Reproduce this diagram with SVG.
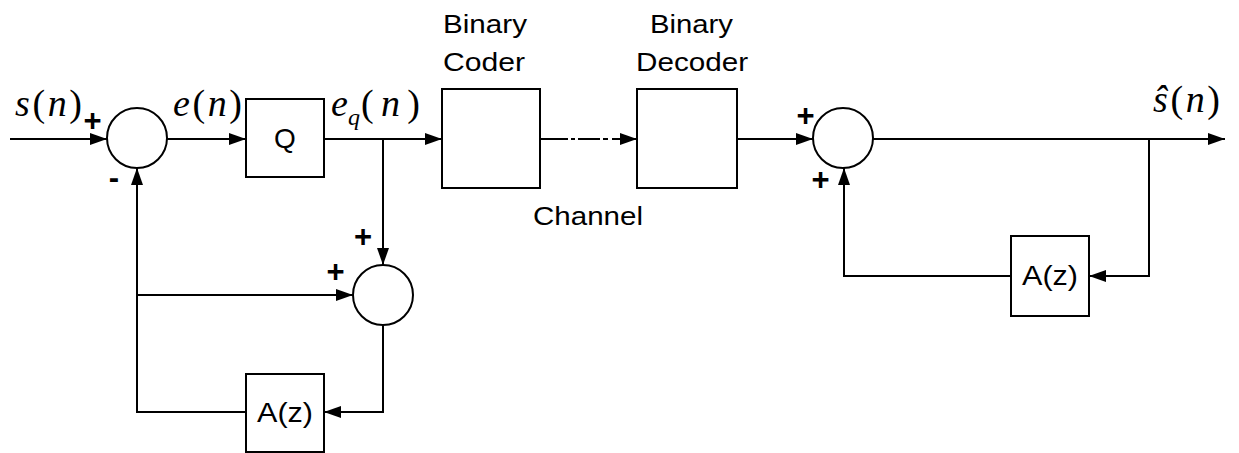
<svg xmlns="http://www.w3.org/2000/svg" width="1239" height="453" viewBox="0 0 1239 453">
<defs>
<marker id="arr" markerUnits="userSpaceOnUse" markerWidth="17" markerHeight="12" refX="17" refY="6" orient="auto">
<path d="M0,0 L17,6 L0,12 z" fill="#000"/>
</marker>
<style>
.box{fill:#fff;stroke:#000;stroke-width:2}
.sum{fill:#fff;stroke:#000;stroke-width:2}
.ln{fill:none;stroke:#000;stroke-width:2;marker-end:url(#arr)}
.lbl{font-family:"Liberation Sans",Arial,sans-serif;font-size:26px;fill:#000}
.big{font-size:28px}
.math{font-family:"Liberation Serif","Times New Roman",serif;font-size:38px;fill:#000}
.sub{font-size:24px}
.it{font-style:italic}
.sg{font-family:"Liberation Sans",Arial,sans-serif;font-size:31px;font-weight:bold;fill:#000;text-anchor:middle}
</style>
</defs>
<rect width="1239" height="453" fill="#fff"/>
<g id="connectors">
<path class="ln" d="M10,139 H107"/>
<path class="ln" d="M167,139 H246"/>
<path class="ln" d="M324,139 H442"/>
<path class="ln" d="M383,139 V265"/>
<path class="ln" d="M540,139 H637" stroke-dasharray="28 3 4 3 22 3 5 4 40"/>
<path class="ln" d="M737,139 H813"/>
<path class="ln" d="M873,139 H1225"/>
<path class="ln" d="M1149,139 V276 H1089"/>
<path class="ln" d="M1011,276 H844 V168"/>
<path class="ln" d="M383,325 V412 H324"/>
<path class="ln" d="M246,412 H137 V168"/>
<path class="ln" d="M137,295 H353"/>
</g>
<g id="sum1"><circle class="sum" cx="137" cy="138" r="30"/></g>
<g id="sum2"><circle class="sum" cx="383" cy="295" r="30"/></g>
<g id="sum3"><circle class="sum" cx="843" cy="138" r="30"/></g>
<g id="quantizer"><rect class="box" x="246" y="99" width="78" height="78"/><text class="lbl big" x="285" y="148" text-anchor="middle">Q</text></g>
<g id="coder"><rect class="box" x="442" y="89" width="98" height="99"/><text class="lbl" x="443" y="33" textLength="84" lengthAdjust="spacingAndGlyphs">Binary</text><text class="lbl" x="443" y="71" textLength="82" lengthAdjust="spacingAndGlyphs">Coder</text></g>
<g id="decoder"><rect class="box" x="637" y="89" width="100" height="99"/><text class="lbl" x="650" y="33" textLength="83" lengthAdjust="spacingAndGlyphs">Binary</text><text class="lbl" x="636" y="71" textLength="112" lengthAdjust="spacingAndGlyphs">Decoder</text></g>
<g id="channel"><text class="lbl" x="533" y="225" textLength="110" lengthAdjust="spacingAndGlyphs">Channel</text></g>
<g id="predictor1"><rect class="box" x="246" y="374" width="78" height="78"/><text class="lbl big" x="257" y="422" textLength="56" lengthAdjust="spacingAndGlyphs">A(z)</text></g>
<g id="predictor2"><rect class="box" x="1011" y="236" width="78" height="80"/><text class="lbl big" x="1022" y="285" textLength="56" lengthAdjust="spacingAndGlyphs">A(z)</text></g>
<g id="labels">
<text class="math" x="15" y="116" textLength="67" lengthAdjust="spacing"><tspan class="it">s</tspan>(<tspan class="it">n</tspan>)</text>
<text class="math" x="173" y="116" textLength="69" lengthAdjust="spacing"><tspan class="it">e</tspan>(<tspan class="it">n</tspan>)</text>
<text class="math it" x="331" y="116">e</text>
<text class="math it sub" x="348" y="125">q</text>
<text class="math" x="361" y="116" textLength="59" lengthAdjust="spacing">(<tspan class="it">n</tspan>)</text>
<text class="math" x="1153" y="112" textLength="67" lengthAdjust="spacing"><tspan class="it">ŝ</tspan>(<tspan class="it">n</tspan>)</text>
<text class="sg" x="92.5" y="131">+</text>
<text class="sg" x="114" y="188">-</text>
<text class="sg" x="363" y="247">+</text>
<text class="sg" x="335.5" y="282">+</text>
<text class="sg" x="805.5" y="126">+</text>
<text class="sg" x="820.5" y="190">+</text>
</g>
</svg>
